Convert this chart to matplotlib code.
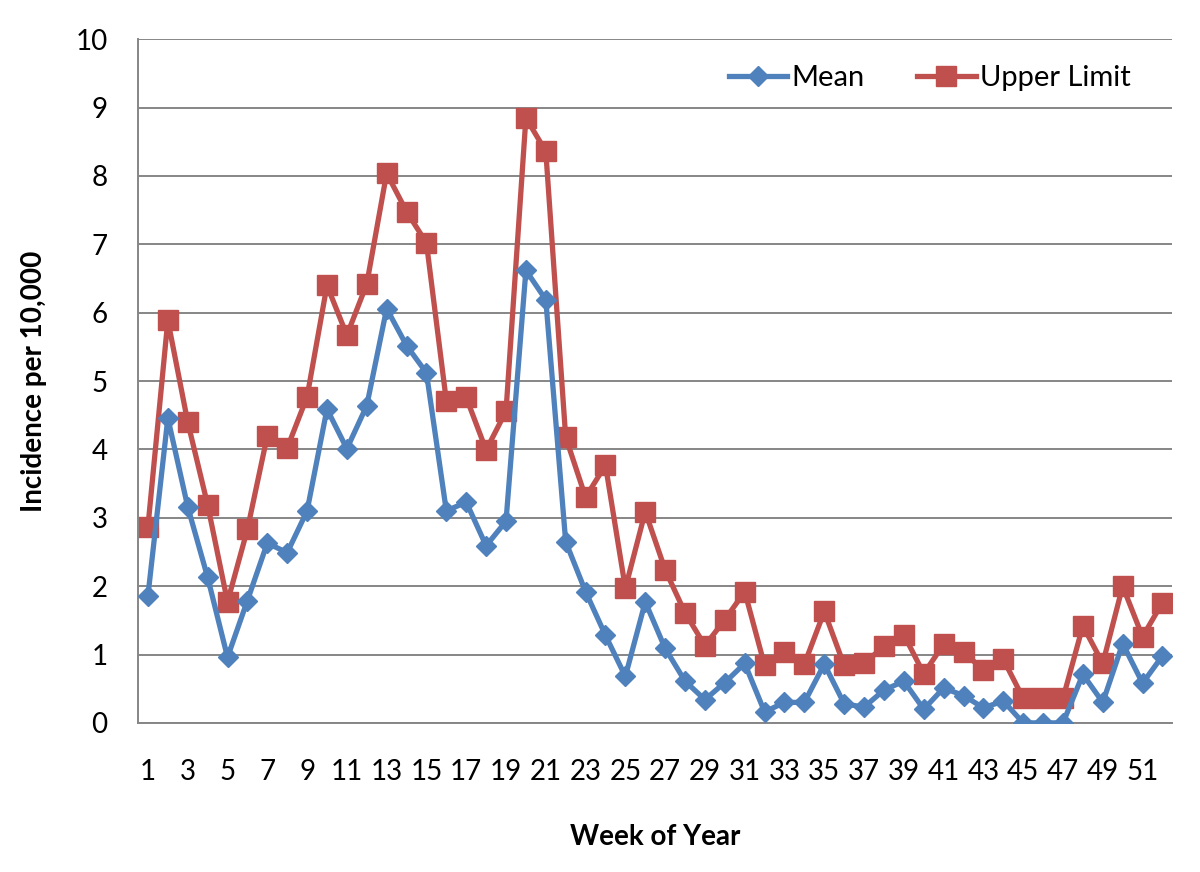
import matplotlib.pyplot as plt

weeks = list(range(1, 53))

mean = [1.86, 4.46, 3.16, 2.13, 0.96, 1.79, 2.63, 2.49, 3.10, 4.59,
        4.01, 4.64, 6.06, 5.52, 5.12, 3.10, 3.23, 2.59, 2.95, 6.62,
        6.19, 2.65, 1.92, 1.28, 0.68, 1.77, 1.09, 0.61, 0.34, 0.59,
        0.87, 0.16, 0.30, 0.30, 0.86, 0.28, 0.23, 0.48, 0.61, 0.20,
        0.51, 0.40, 0.22, 0.32, 0.0, 0.0, 0.0, 0.71, 0.30, 1.16,
        0.58, 0.98]

upper = [2.87, 5.89, 4.40, 3.19, 1.77, 2.83, 4.20, 4.02, 4.77, 6.40,
         5.67, 6.42, 8.04, 7.48, 7.02, 4.71, 4.76, 3.99, 4.56, 8.85,
         8.36, 4.18, 3.30, 3.77, 1.97, 3.09, 2.24, 1.61, 1.13, 1.51,
         1.92, 0.84, 1.04, 0.86, 1.63, 0.84, 0.87, 1.12, 1.29, 0.72,
         1.15, 1.04, 0.77, 0.93, 0.36, 0.37, 0.36, 1.42, 0.87, 2.00,
         1.26, 1.76]

x_ticks = list(range(1, 53, 2))
y_ticks = list(range(0, 11))

plt.rcParams['font.family'] = ['Lato', 'DejaVu Sans']

fig = plt.figure(figsize=(12, 8.72), dpi=100)
ax = fig.add_axes([0.115, 0.171, 0.862, 0.784])

ax.plot(weeks, mean, color='#4F81BD', lw=3.8, marker='D', ms=10,
        label='Mean', zorder=3)
ax.plot(weeks, upper, color='#C0504D', lw=3.8, marker='s', ms=14,
        label='Upper Limit', zorder=2)

ax.set_xlim(0.5, 52.5)
ax.set_ylim(0, 10)
ax.set_xticks(x_ticks)
ax.set_yticks(y_ticks)
ax.tick_params(axis='both', length=0, labelsize=20)
ax.tick_params(axis='x', pad=26)
ax.tick_params(axis='y', pad=22)

ax.grid(axis='y', color='#868686', lw=1.4)
ax.set_axisbelow(True)
for s in ['top', 'right']:
    ax.spines[s].set_visible(False)
ax.spines['left'].set_color('#868686')
ax.spines['bottom'].set_color('#868686')
ax.spines['left'].set_linewidth(1.4)
ax.spines['bottom'].set_linewidth(1.4)

ax.set_xlabel('Week of Year', fontsize=20, fontweight='bold', labelpad=28)
ax.set_ylabel('Incidence per 10,000', fontsize=20, fontweight='bold', labelpad=20)

ax.legend(loc='upper right', bbox_to_anchor=(0.985, 1.0), ncol=2, frameon=False,
          fontsize=21, handlelength=2.0, columnspacing=1.8, handletextpad=0.15)

fig.savefig('out.png', dpi=100)
